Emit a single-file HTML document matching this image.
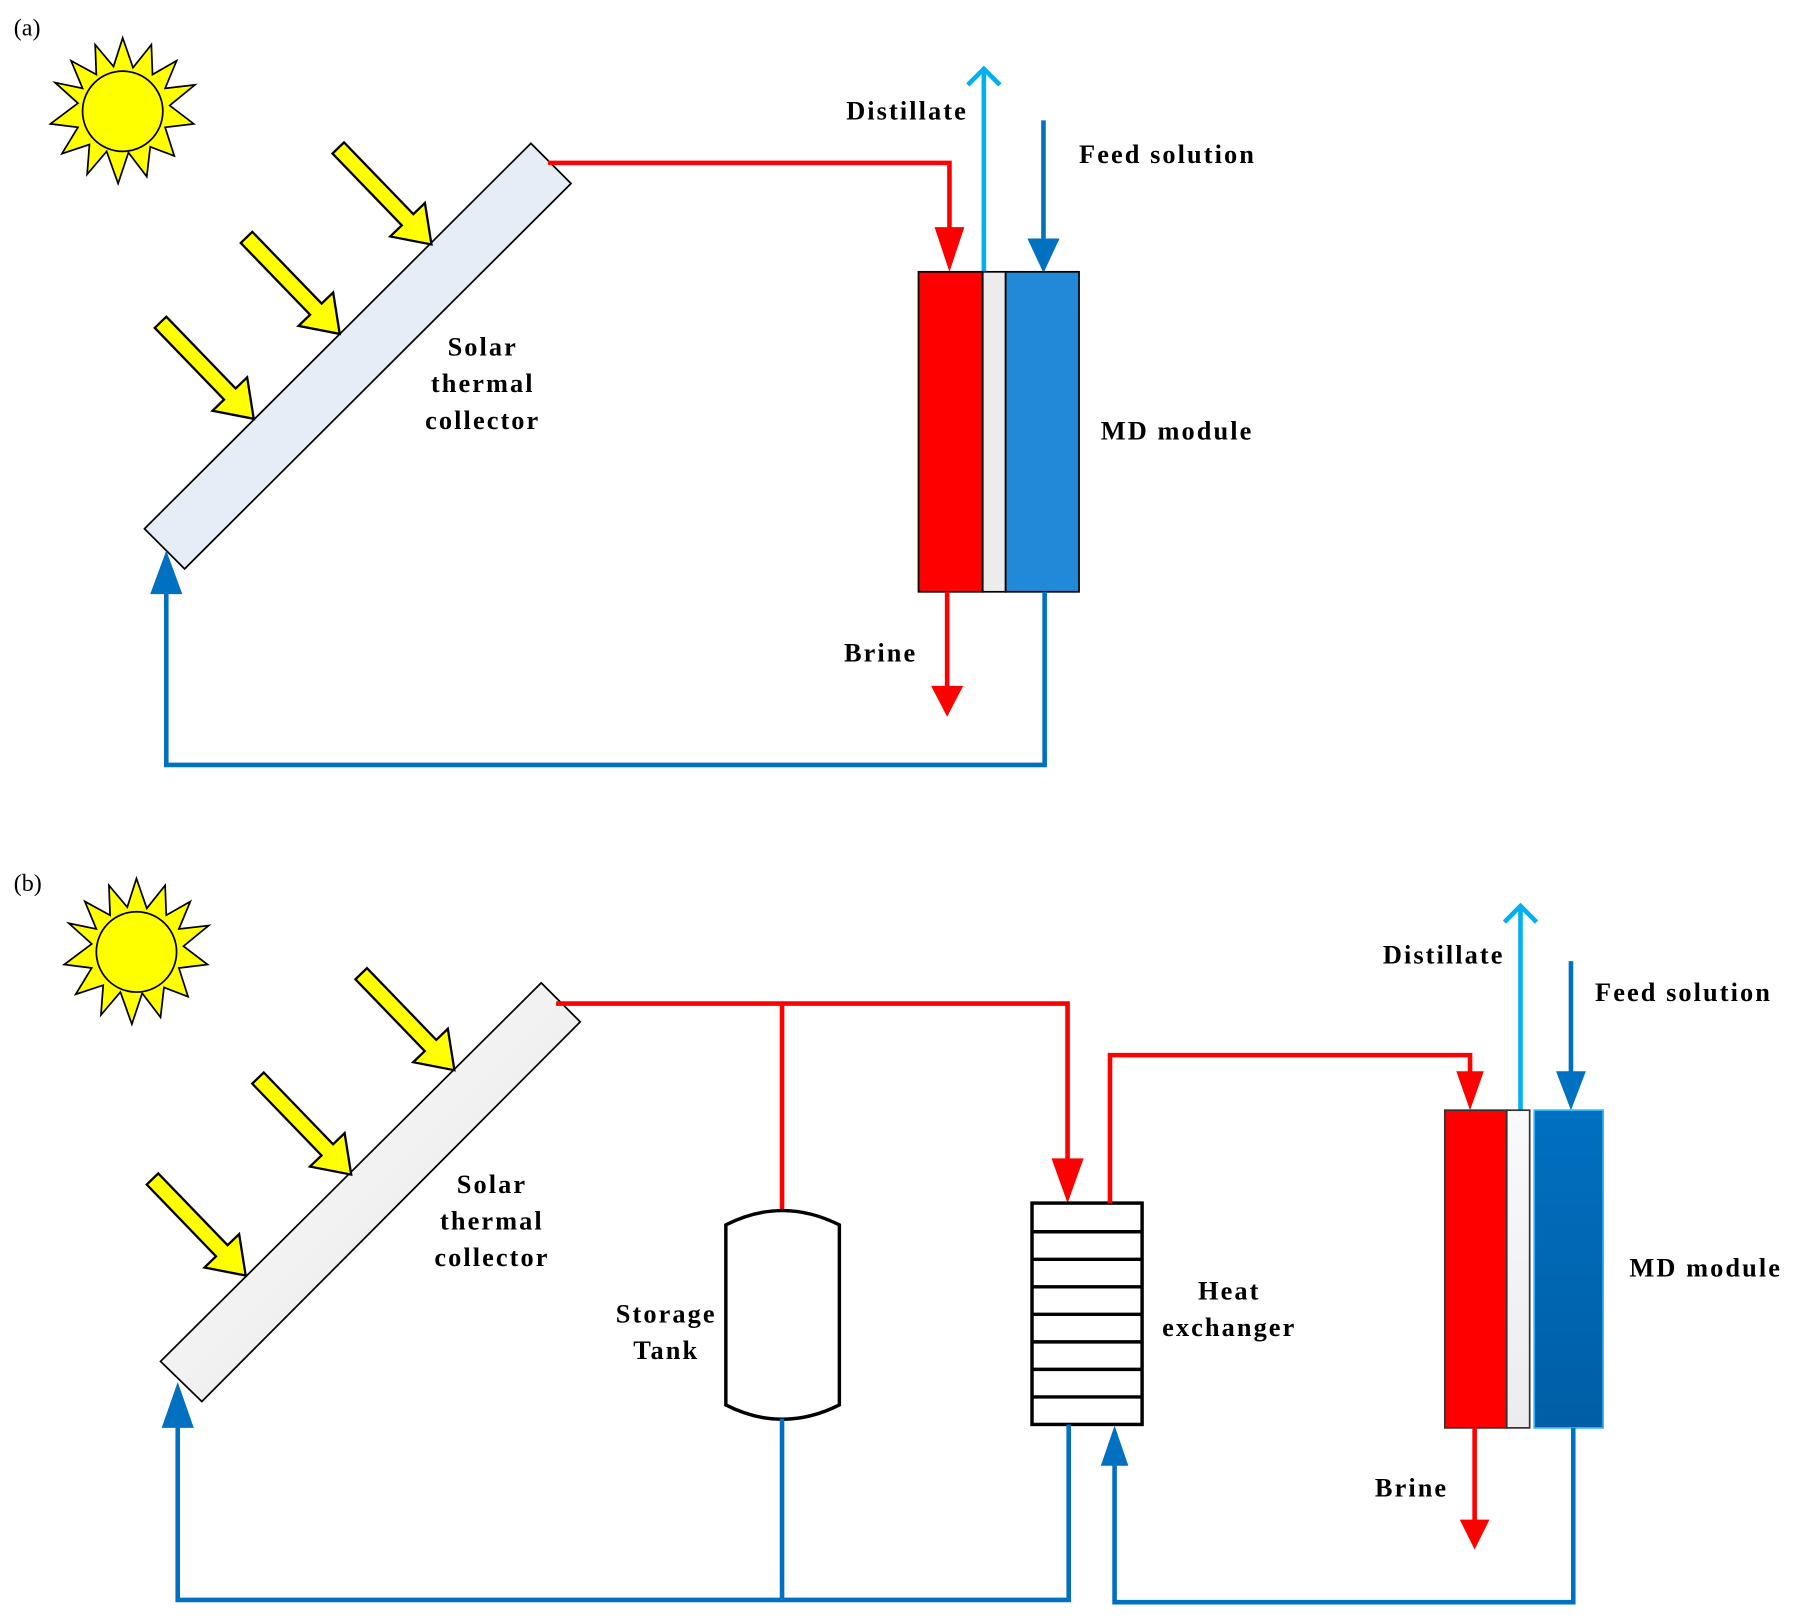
<!DOCTYPE html>
<html><head><meta charset="utf-8"><style>html,body{margin:0;padding:0;background:#fff}svg{display:block}</style></head>
<body>
<svg width="1798" height="1624" viewBox="0 0 1568 1416" preserveAspectRatio="none" xmlns="http://www.w3.org/2000/svg" font-family="Liberation Serif, serif">
<defs>
<linearGradient id="cg" x1="0" y1="0" x2="1" y2="1"><stop offset="0" stop-color="#ffffff"/><stop offset="1" stop-color="#e4e4e4"/></linearGradient>
<linearGradient id="bg" x1="0" y1="0" x2="0" y2="1"><stop offset="0" stop-color="#0070c0"/><stop offset="1" stop-color="#005ea6"/></linearGradient>
<linearGradient id="gg" x1="0" y1="0" x2="0" y2="1"><stop offset="0" stop-color="#fafafa"/><stop offset="1" stop-color="#ececec"/></linearGradient>
<path id="ya" d="M0,-7 L87,-7 L87,-21 L117,0 L87,21 L87,7 L0,7 Z" fill="#ffff00" stroke="#000" stroke-width="2"/>
<polygon id="sun" fill="#ffff00" stroke="#000" stroke-width="1.5" points="0,-64 9,-38 25,-58 26,-32 47,-44 37,-20 63,-23 41,-5 62,11 37,14 45,39 24,31 21,57 5,36 -4,63 -14,35 -31,55 -29,29 -53,37 -39,14 -63,11 -39,-7 -59,-25 -35,-20 -45,-44 -23,-32 -24,-58 -8,-39"/>
</defs>
<g font-size="21"><text x="12" y="31">(a)</text><text x="12" y="777">(b)</text></g>

<!-- PANEL A -->
<g transform="translate(107,97)"><use href="#sun"/><circle r="35" fill="#ffff00" stroke="#000" stroke-width="1.5"/></g>
<polygon points="463,125 498,160 161,496 126,461" fill="#e5edf7" stroke="#000" stroke-width="1.5"/>
<use href="#ya" transform="translate(295,129) rotate(46)"/>
<use href="#ya" transform="translate(215,207) rotate(46)"/>
<use href="#ya" transform="translate(140,281) rotate(46)"/>
<polyline points="478,142 828,142 828,205" fill="none" stroke="#ff0000" stroke-width="4"/>
<polygon points="815,198 841,198 828,237" fill="#ff0000"/>
<line x1="858" y1="238" x2="858" y2="60" stroke="#00b0f0" stroke-width="4"/>
<polyline points="844,74 858,60 872,74" fill="none" stroke="#00b0f0" stroke-width="4"/>
<line x1="910" y1="105" x2="910" y2="210" stroke="#0070c0" stroke-width="4"/>
<polygon points="896,208 924,208 910,238" fill="#0070c0"/>
<rect x="801" y="237" width="56" height="279" fill="#ff0000" stroke="#000" stroke-width="1.5"/>
<rect x="857" y="237" width="20" height="279" fill="#ececec" stroke="#000" stroke-width="1.5"/>
<rect x="877" y="237" width="64" height="279" fill="#2288d8" stroke="#000" stroke-width="1.5"/>
<line x1="826" y1="516" x2="826" y2="600" stroke="#ff0000" stroke-width="4"/>
<polygon points="812,598 840,598 826,625" fill="#ff0000"/>
<polyline points="911,516 911,667 145,667 145,510" fill="none" stroke="#0070c0" stroke-width="4"/>
<polygon points="131,518 159,518 145,480" fill="#0070c0"/>
<g font-size="23" font-weight="bold" text-anchor="middle" letter-spacing="1.8">
<text x="791" y="104">Distillate</text>
<text x="421" y="310">Solar</text><text x="421" y="342">thermal</text><text x="421" y="374">collector</text>
<text x="768" y="577">Brine</text>
</g>
<g font-size="23" font-weight="bold" letter-spacing="1.8">
<text x="941" y="142">Feed solution</text>
<text x="960" y="383">MD module</text>
</g>

<!-- PANEL B -->
<g transform="translate(119,830)"><use href="#sun"/><circle r="35" fill="#ffff00" stroke="#000" stroke-width="1.5"/></g>
<polygon points="472,857 506,891 176,1222 140,1187" fill="url(#cg)" stroke="#000" stroke-width="1.5"/>
<use href="#ya" transform="translate(315,849) rotate(46)"/>
<use href="#ya" transform="translate(225,940) rotate(46)"/>
<use href="#ya" transform="translate(133,1028) rotate(46)"/>
<polyline points="485,875 931,875 931,1018" fill="none" stroke="#ff0000" stroke-width="4"/>
<line x1="682" y1="875" x2="682" y2="1057" stroke="#ff0000" stroke-width="4"/>
<polygon points="917,1010 945,1010 931,1049" fill="#ff0000"/>
<path d="M633,1068 Q682,1043 732,1068 L732,1225 Q682,1250 633,1225 Z" fill="#fff" stroke="#000" stroke-width="3"/>
<rect x="900" y="1049" width="96" height="193" fill="#fff" stroke="#000" stroke-width="3"/>
<g stroke="#000" stroke-width="3"><line x1="900" y1="1074" x2="996" y2="1074"/><line x1="900" y1="1098" x2="996" y2="1098"/><line x1="900" y1="1122" x2="996" y2="1122"/><line x1="900" y1="1146" x2="996" y2="1146"/><line x1="900" y1="1170" x2="996" y2="1170"/><line x1="900" y1="1194" x2="996" y2="1194"/><line x1="900" y1="1218" x2="996" y2="1218"/></g>
<polyline points="968,1049 968,920 1282,920 1282,940" fill="none" stroke="#ff0000" stroke-width="4"/>
<polygon points="1270,934 1294,934 1282,968" fill="#ff0000"/>
<line x1="1326" y1="968" x2="1326" y2="790" stroke="#00b0f0" stroke-width="4"/>
<polyline points="1312,804 1326,790 1340,804" fill="none" stroke="#00b0f0" stroke-width="4"/>
<line x1="1370" y1="838" x2="1370" y2="940" stroke="#0070c0" stroke-width="4"/>
<polygon points="1357,934 1383,934 1370,968" fill="#0070c0"/>
<rect x="1260" y="968" width="54" height="277" fill="#ff0000" stroke="#333" stroke-width="1.5"/>
<rect x="1314" y="968" width="20" height="277" fill="url(#gg)" stroke="#333" stroke-width="1.5"/>
<rect x="1338" y="968" width="60" height="277" fill="url(#bg)" stroke="#33b0f0" stroke-width="1.5"/>
<line x1="1286" y1="1245" x2="1286" y2="1328" stroke="#ff0000" stroke-width="4"/>
<polygon points="1273,1325 1299,1325 1286,1351" fill="#ff0000"/>
<polyline points="1372,1245 1372,1397 972,1397 972,1270" fill="none" stroke="#0070c0" stroke-width="4"/>
<polygon points="960,1278 984,1278 972,1243" fill="#0070c0"/>
<line x1="682" y1="1237" x2="682" y2="1395" stroke="#0070c0" stroke-width="4"/>
<polyline points="932,1242 932,1395 155,1395 155,1235" fill="none" stroke="#0070c0" stroke-width="4"/>
<polygon points="141,1245 169,1245 155,1205" fill="#0070c0"/>
<g font-size="23" font-weight="bold" text-anchor="middle" letter-spacing="1.8">
<text x="429" y="1040">Solar</text><text x="429" y="1072">thermal</text><text x="429" y="1104">collector</text>
<text x="581" y="1153">Storage</text><text x="581" y="1185">Tank</text>
<text x="1072" y="1133">Heat</text><text x="1072" y="1165">exchanger</text>
<text x="1259" y="840">Distillate</text>
<text x="1231" y="1305">Brine</text>
</g>
<g font-size="23" font-weight="bold" letter-spacing="1.8">
<text x="1391" y="873">Feed solution</text>
<text x="1421" y="1113">MD module</text>
</g>
</svg>
</body></html>
